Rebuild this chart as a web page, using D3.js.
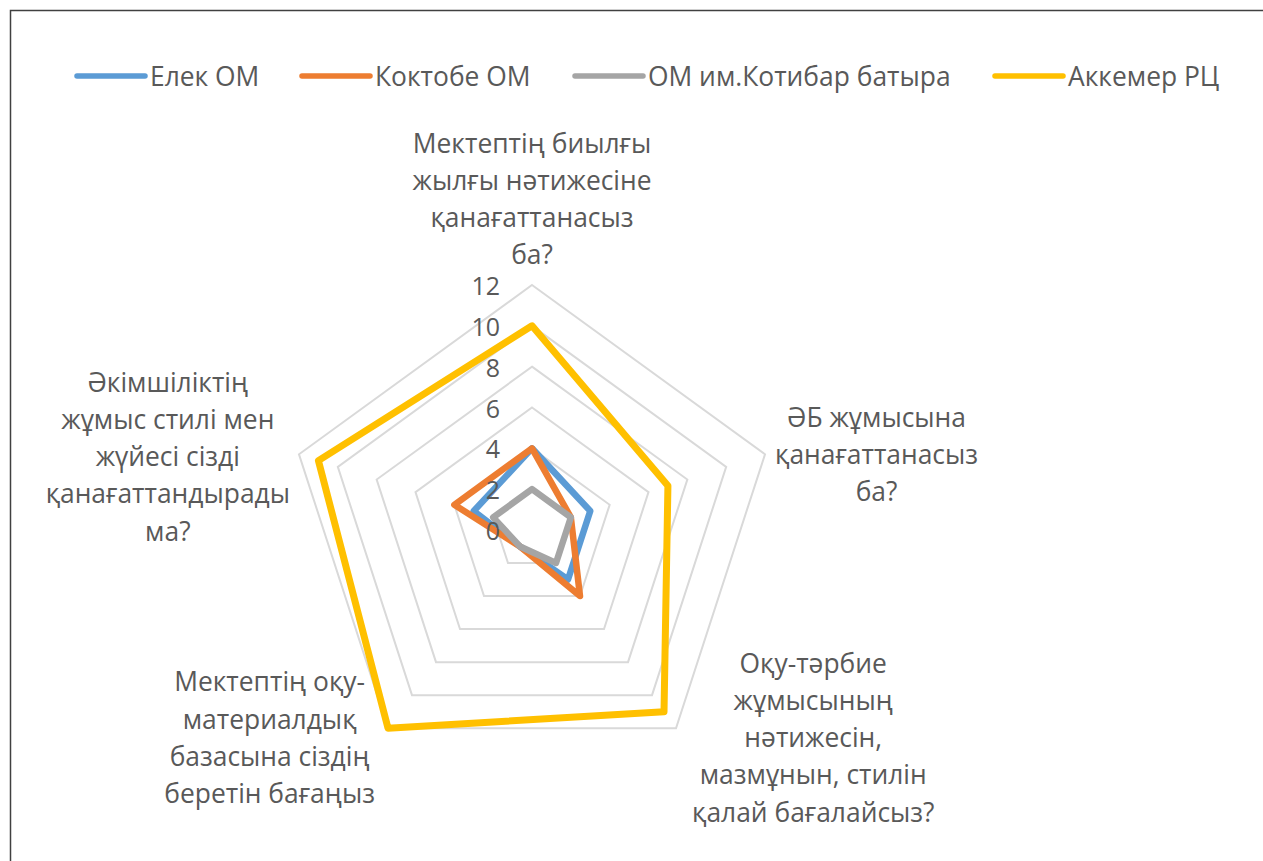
<!DOCTYPE html>
<html>
<head>
<meta charset="utf-8">
<script src="https://cdn.jsdelivr.net/npm/d3@7"></script>
<style>
  html, body { margin: 0; padding: 0; background: #fff; }
  svg { display: block; }
  text { font-family: "Open Sans", "Noto Sans", sans-serif; fill: #595959; }
</style>
</head>
<body>
<svg id="chart" width="1263" height="861"></svg>
<script>
// ---- data ----
const categories = [
  ["Мектептің биылғы", "жылғы нәтижесіне", "қанағаттанасыз", "ба?"],
  ["ӘБ жұмысына", "қанағаттанасыз", "ба?"],
  ["Оқу-тәрбие", "жұмысының", "нәтижесін,", "мазмұнын, стилін", "қалай бағалайсыз?"],
  ["Мектептің оқу-", "материалдық", "базасына сіздің", "беретін бағаңыз"],
  ["Әкімшіліктің", "жұмыс стилі мен", "жүйесі сізді", "қанағаттандырады", "ма?"]
];
const seriesNames = ["Елек ОМ", "Коктобе ОМ", "ОМ им.Котибар батыра", "Аккемер РЦ"];
const elekValues = [4, 3, 3, 1, 3];
const koktobeValues = [4, 2, 4, 1, 4];
const kotibarValues = [2, 2, 2, 1, 2];
const akkemerValues = [10, 7, 11, 12, 11];
const tickValues = [0, 2, 4, 6, 8, 10, 12];
const seriesColors = ["#5B9BD5", "#ED7D31", "#A5A5A5", "#FFC000"];

const seriesValues = [elekValues, koktobeValues, kotibarValues, akkemerValues];

// ---- layout ----
const svg = d3.select("#chart");
const cx = 532, cy = 530, R = 245;
const n = categories.length;
const r = d3.scaleLinear().domain([0, 12]).range([0, R]);
const angle = d3.scaleLinear().domain([0, n]).range([0, 2 * Math.PI]);
const pt = (i, v) => [cx + r(v) * Math.sin(angle(i)), cy - r(v) * Math.cos(angle(i))];

// border
svg.append("rect").attr("x", 10.5).attr("y", 10.5).attr("width", 1400).attr("height", 1000)
  .attr("fill", "none").attr("stroke", "#404040").attr("stroke-width", 1.5);

// grid rings
const g = svg.append("g");
tickValues.slice(1).forEach(t => {
  const pts = d3.range(n).map(i => pt(i, t));
  g.append("path").attr("d", "M" + pts.map(p => p.join(",")).join("L") + "Z")
    .attr("fill", "none").attr("stroke", "#D9D9D9").attr("stroke-width", 2);
});

// series
const line = d3.line().x(d => d[0]).y(d => d[1]).curve(d3.curveLinearClosed);
seriesValues.forEach((vals, s) => {
  g.append("path").attr("d", line(vals.map((v, i) => pt(i, v))))
    .attr("fill", "none").attr("stroke", seriesColors[s])
    .attr("stroke-width", s === 3 ? 7 : 6.5).attr("stroke-linejoin", "round");
});

// tick labels
tickValues.forEach(t => {
  svg.append("text").attr("x", cx - 32).attr("y", cy - r(t))
    .attr("text-anchor", "end").attr("dominant-baseline", "central")
    .style("font-size", "25px").text(t);
});

// category labels
const fs = 26.4, lh = 37.2;
categories.forEach((lines, i) => {
  const [vx, vy] = pt(i, 12);
  const tg = svg.append("g");
  const texts = lines.map((l, k) => tg.append("text").attr("text-anchor", "middle")
    .attr("dominant-baseline", "central").style("font-size", fs + "px").attr("y", k * lh).text(l));
  const w = d3.max(texts, t => t.node().getComputedTextLength());
  const h = lines.length * lh;
  let x, yTop;
  if (i === 0) { x = vx; yTop = vy - 12 - h; }
  else if (i === 1) { x = vx + 10 + w / 2; yTop = vy - h / 2; }
  else if (i === 2) { x = vx + 16 + w / 2; yTop = vy + 9 - h / 2; }
  else if (i === 3) { x = vx - 13 - w / 2; yTop = vy + 9 - h / 2; }
  else { x = vx - 9 - w / 2; yTop = vy + 2 - h / 2; }
  tg.attr("transform", `translate(${x},${yTop + lh / 2})`);
});

// legend
const legendX = [75, 300, 573, 993];
seriesNames.forEach((name, s) => {
  const lg = svg.append("g").attr("transform", `translate(${legendX[s]},76)`);
  lg.append("line").attr("x1", 2).attr("x2", 70).attr("y1", 0).attr("y2", 0)
    .attr("stroke", seriesColors[s]).attr("stroke-width", 5.5).attr("stroke-linecap", "round");
  lg.append("text").attr("x", 75).attr("y", 0).attr("dominant-baseline", "central")
    .style("font-size", fs + "px").text(name);
});
</script>
</body>
</html>
